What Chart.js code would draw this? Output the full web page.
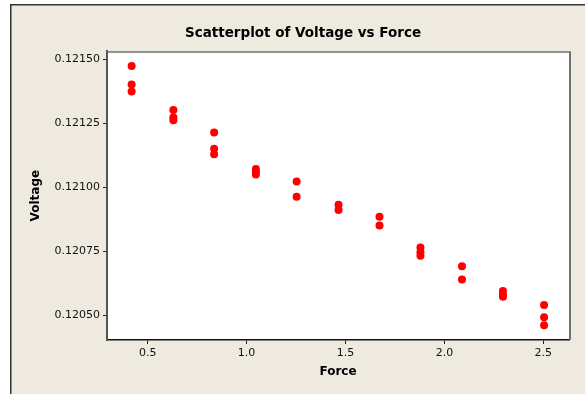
<!DOCTYPE html>
<html>
<head>
<meta charset="utf-8">
<script src="https://cdn.jsdelivr.net/npm/chart.js@4/dist/chart.umd.min.js"></script>
<style>
  html, body { margin: 0; padding: 0; background: #ffffff; }
  #wrap { width: 585px; height: 394px; position: relative; }
</style>
</head>
<body>
<div id="wrap"><canvas id="c" width="585" height="394"></canvas></div>
<script>
const chartTitle = "Scatterplot of Voltage vs Force";
const xLabel = "Force";
const yLabel = "Voltage";

const force = [
  0.419, 0.419, 0.419,
  0.630, 0.630, 0.630,
  0.836, 0.836, 0.836,
  1.047, 1.047, 1.047,
  1.253, 1.253,
  1.465, 1.465,
  1.672, 1.672,
  1.879, 1.879, 1.879,
  2.089, 2.089,
  2.296, 2.296, 2.296,
  2.504, 2.504, 2.504
];
const voltage = [
  0.121473, 0.121401, 0.121374,
  0.121302, 0.121272, 0.121262,
  0.121214, 0.121150, 0.121129,
  0.121071, 0.121060, 0.121050,
  0.121023, 0.120963,
  0.120932, 0.120911,
  0.120885, 0.120851,
  0.120765, 0.120746, 0.120733,
  0.120692, 0.120640,
  0.120595, 0.120582, 0.120573,
  0.120541, 0.120493, 0.120462
];
const xTicks = [0.5, 1.0, 1.5, 2.0, 2.5];
const yTicks = [0.12050, 0.12075, 0.12100, 0.12125, 0.12150];

const points = force.map((f, i) => ({ x: f, y: voltage[i] }));

const framePlugin = {
  id: 'frame',
  beforeDraw(chart) {
    const ctx = chart.ctx;
    const a = chart.chartArea;
    ctx.save();
    ctx.fillStyle = '#ffffff';
    ctx.fillRect(0, 0, chart.width, chart.height);
    ctx.fillStyle = '#eeeae0';
    ctx.fillRect(10, 4, chart.width - 10, chart.height - 4);
    ctx.strokeStyle = '#333333';
    ctx.lineWidth = 1.5;
    ctx.beginPath();
    ctx.moveTo(10.75, chart.height);
    ctx.lineTo(10.75, 4.75);
    ctx.lineTo(chart.width, 4.75);
    ctx.stroke();
    ctx.fillStyle = '#ffffff';
    ctx.fillRect(a.left, a.top, a.right - a.left, a.bottom - a.top);
    ctx.restore();
  },
  afterDatasetsDraw(chart) {
    const ctx = chart.ctx;
    const a = chart.chartArea;
    ctx.save();
    ctx.strokeStyle = '#707070';
    ctx.lineWidth = 1.5;
    ctx.beginPath();
    ctx.moveTo(a.left, a.top + 0.75);
    ctx.lineTo(a.right, a.top + 0.75);
    ctx.stroke();
    ctx.lineWidth = 2;
    ctx.beginPath();
    ctx.moveTo(a.right + 1, a.top);
    ctx.lineTo(a.right + 1, a.bottom);
    ctx.stroke();
    ctx.restore();
  }
};

new Chart(document.getElementById('c'), {
  type: 'scatter',
  data: {
    datasets: [{
      label: yLabel,
      data: points,
      backgroundColor: '#ff0000',
      borderColor: '#ff0000',
      pointRadius: 4,
      pointHoverRadius: 4,
      borderWidth: 0
    }]
  },
  plugins: [framePlugin],
  options: {
    responsive: false,
    animation: false,
    layout: { padding: { left: 37, right: 16, top: 4, bottom: 0 } },
    plugins: {
      legend: { display: false },
      tooltip: { enabled: false },
      title: {
        display: true,
        text: chartTitle,
        color: '#000000',
        font: { family: 'DejaVu Sans', size: 13.5, weight: 'bold' },
        padding: { top: 21, bottom: 10 }
      }
    },
    scales: {
      x: {
        type: 'linear',
        min: 0.2944,
        max: 2.63,
        afterFit(scale) { scale.height = 54; },
        afterBuildTicks(scale) { scale.ticks = xTicks.map(v => ({ value: v })); },
        ticks: {
          color: '#111111',
          font: { family: 'DejaVu Sans', size: 11 },
          padding: 3,
          maxRotation: 0,
          callback: v => v.toFixed(1)
        },
        grid: { drawOnChartArea: false, drawTicks: true, tickLength: 4, tickColor: '#222222', tickWidth: 1 },
        border: { display: true, color: '#111111', width: 1.5 },
        title: {
          display: true,
          text: xLabel,
          color: '#000000',
          font: { family: 'DejaVu Sans', size: 12, weight: 'bold' },
          padding: { top: 0, bottom: 15 }
        }
      },
      y: {
        type: 'linear',
        min: 0.120404,
        max: 0.121531,
        afterFit(scale) { scale.width = 70; },
        afterBuildTicks(scale) { scale.ticks = yTicks.map(v => ({ value: v })); },
        ticks: {
          color: '#111111',
          font: { family: 'DejaVu Sans', size: 11 },
          padding: 3,
          callback: v => v.toFixed(5)
        },
        grid: { drawOnChartArea: false, drawTicks: true, tickLength: 4, tickColor: '#222222', tickWidth: 1 },
        border: { display: true, color: '#555555', width: 2 },
        title: {
          display: true,
          text: yLabel,
          color: '#000000',
          font: { family: 'DejaVu Sans', size: 12, weight: 'bold' },
          padding: { top: -8, bottom: 0 }
        }
      }
    }
  }
});
</script>
</body>
</html>
